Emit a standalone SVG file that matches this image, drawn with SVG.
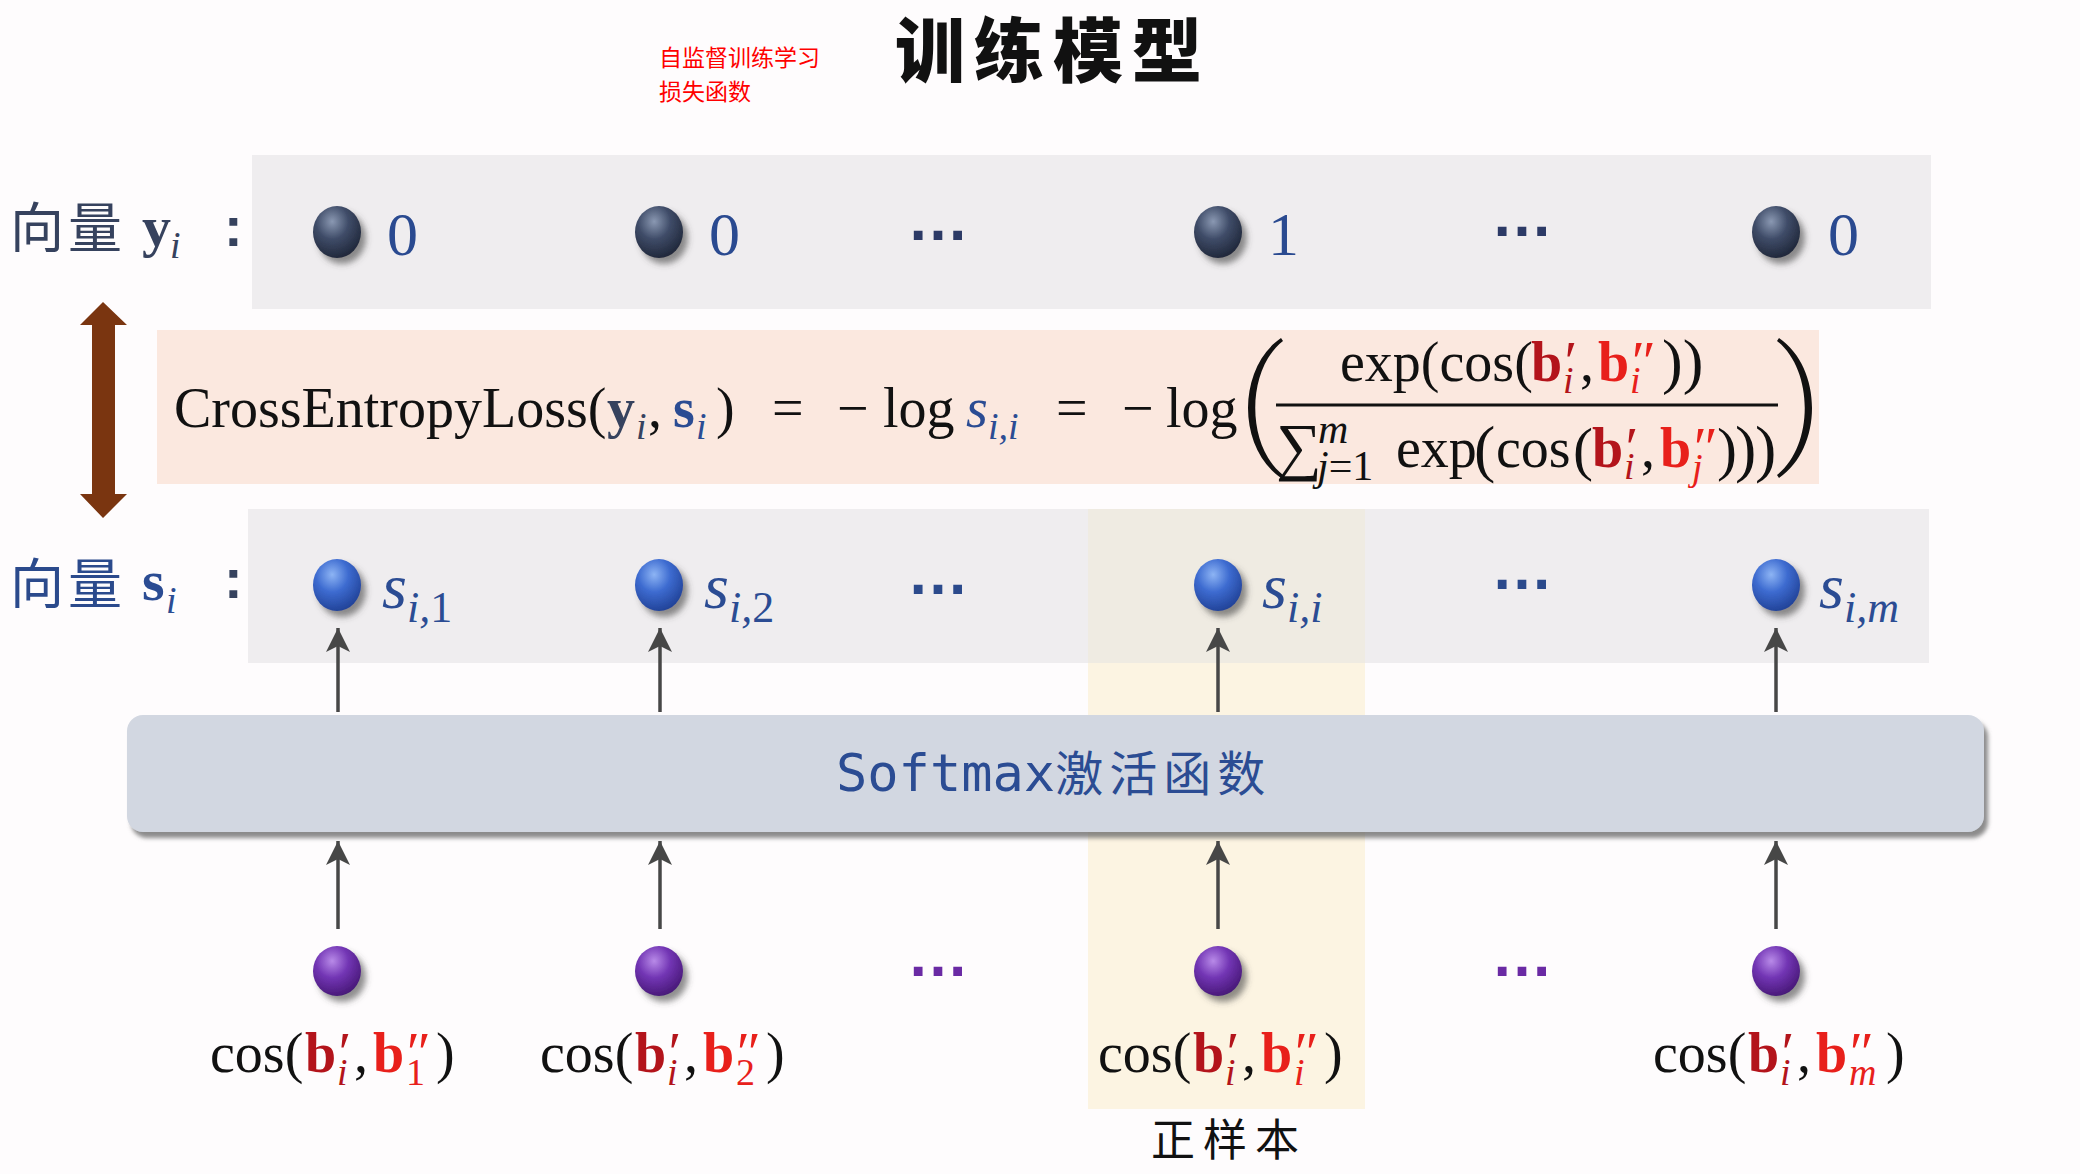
<svg xmlns="http://www.w3.org/2000/svg" width="2080" height="1174" viewBox="0 0 2080 1174">
<defs>
<style>
.cjk{font-family:"Noto Sans CJK SC","Noto Sans",sans-serif}
.serif{font-family:"Liberation Serif","DejaVu Serif",serif}
.f{font-family:"Liberation Serif","DejaVu Serif",serif;font-size:56px;fill:#111}
.sub{font-size:38px;font-style:italic}
.pr{font-size:58px;font-style:italic}
.bd{font-weight:bold}
.it{font-style:italic}
.dr{fill:#b3141b}
.br{fill:#e8201b}
.blue{fill:#2b4c93}
.slate{fill:#36425e}
.conn{stroke:#474747;stroke-width:3.5;fill:none;marker-end:url(#ah)}
.dots{font-family:"Liberation Sans",sans-serif;font-weight:bold;font-size:62px;text-anchor:middle}
</style>
<radialGradient id="gDark" cx="0.4" cy="0.3" r="0.75">
<stop offset="0" stop-color="#8a98b2"/><stop offset="0.45" stop-color="#3f4c68"/><stop offset="1" stop-color="#1d2436"/>
</radialGradient>
<radialGradient id="gBlue" cx="0.4" cy="0.3" r="0.75">
<stop offset="0" stop-color="#8db4f4"/><stop offset="0.45" stop-color="#3d6bd0"/><stop offset="1" stop-color="#1f3f93"/>
</radialGradient>
<radialGradient id="gPurp" cx="0.4" cy="0.3" r="0.75">
<stop offset="0" stop-color="#b88ae8"/><stop offset="0.45" stop-color="#7235b4"/><stop offset="1" stop-color="#441672"/>
</radialGradient>
<filter id="bs" x="-50%" y="-50%" width="200%" height="200%">
<feDropShadow dx="5" dy="6" stdDeviation="3" flood-color="#444" flood-opacity="0.6"/>
</filter>
<filter id="boxs" x="-5%" y="-20%" width="110%" height="140%">
<feDropShadow dx="4" dy="6" stdDeviation="2" flood-color="#666" flood-opacity="0.75"/>
</filter>
<marker id="ah" markerUnits="userSpaceOnUse" markerWidth="24" markerHeight="24" viewBox="0 0 24 24" refX="24" refY="12" orient="auto">
<path d="M0,0 L24,12 L0,24 L6,12 Z" fill="#474747"/>
</marker>
</defs>
<rect width="2080" height="1174" fill="#fefcfd"/>

<g id="title">
<text class="cjk" x="1053" y="77" font-size="70" font-weight="900" text-anchor="middle" letter-spacing="9" fill="#111">训练模型</text>
</g>
<g id="note">
<text class="cjk" x="659" y="66" font-size="23" fill="#ff0000">自监督训练学习</text>
<text class="cjk" x="659" y="100" font-size="23" fill="#ff0000">损失函数</text>
</g>

<rect id="panel-y" x="252" y="155" width="1679" height="154" fill="#efedef"/>
<rect id="panel-loss" x="157" y="330" width="1662" height="154" fill="#fbe8df"/>
<rect x="1088" y="509" width="277" height="600" fill="#fcf4e2"/>
<rect id="panel-s" x="248" y="509" width="1681" height="154" fill="#efedef"/>
<rect x="1088" y="509" width="277" height="154" fill="#efebe2"/>

<g id="label-y">
<text class="cjk slate" x="10" y="248" font-size="54" letter-spacing="4">向量</text>
<text class="serif bd slate" x="142" y="246" font-size="58">y</text>
<text class="serif it slate" x="170" y="258" font-size="38">i</text>
<text x="224" y="246" font-family="Liberation Sans,sans-serif" font-weight="bold" font-size="56" class="slate">:</text>
</g>
<g id="label-s">
<text class="cjk" x="10" y="604" font-size="54" letter-spacing="4" fill="#2b4a8c">向量</text>
<text class="serif bd blue" x="142" y="600" font-size="58">s</text>
<text class="serif it blue" x="166" y="613" font-size="38">i</text>
<text x="224" y="598" font-family="Liberation Sans,sans-serif" font-weight="bold" font-size="56" class="slate">:</text>
</g>

<g id="double-arrow">
<polygon points="103,302 127,325 115,325 115,494 127,494 103,518 80,494 92,494 92,325 80,325" fill="#7a3510"/>
</g>

<g id="y1"><ellipse cx="337" cy="232" rx="24" ry="26" fill="url(#gDark)" filter="url(#bs)"/><text class="serif" x="387" y="255" font-size="62" fill="#2a4a90">0</text></g>
<g id="y2"><ellipse cx="659" cy="232" rx="24" ry="26" fill="url(#gDark)" filter="url(#bs)"/><text class="serif" x="709" y="255" font-size="62" fill="#2a4a90">0</text></g>
<g id="y-dots1"><text class="dots" x="938" y="240" fill="#2c3a66">…</text></g>
<g id="yi"><ellipse cx="1218" cy="232" rx="24" ry="26" fill="url(#gDark)" filter="url(#bs)"/><text class="serif" x="1268" y="255" font-size="62" fill="#2a4a90">1</text></g>
<g id="y-dots2"><text class="dots" x="1522" y="236" fill="#2c3a66">…</text></g>
<g id="ym"><ellipse cx="1776" cy="232" rx="24" ry="26" fill="url(#gDark)" filter="url(#bs)"/><text class="serif" x="1828" y="255" font-size="62" fill="#2a4a90">0</text></g>

<g id="loss">
<text class="f">
<tspan x="174" y="427">CrossEntropyLoss(</tspan><tspan x="607" y="427" class="bd slate">y</tspan><tspan x="636" y="439" class="sub slate">i</tspan><tspan x="648" y="427">,</tspan><tspan x="673" y="427" class="bd blue">s</tspan><tspan x="696" y="439" class="sub blue">i</tspan><tspan x="716" y="427">)</tspan>
<tspan x="772" y="427">=</tspan><tspan x="837" y="427">−</tspan><tspan x="883" y="427">log</tspan><tspan x="966" y="427" class="it blue">s</tspan><tspan x="988" y="439" class="sub blue">i,i</tspan>
<tspan x="1056" y="427">=</tspan><tspan x="1122" y="427">−</tspan><tspan x="1166" y="427">log</tspan>
</text>
<path d="M1281,338 C1237,368 1237,448 1281,478 L1283,475 C1246,446 1246,370 1283,341 Z" fill="#111"/>
<text class="f">
<tspan x="1340" y="381">exp(cos(</tspan><tspan x="1531" y="381" class="bd dr">b</tspan><tspan x="1561" y="381" class="pr dr">′</tspan><tspan x="1563" y="393" class="sub dr">i</tspan><tspan x="1580" y="381">,</tspan><tspan x="1598" y="381" class="bd br">b</tspan><tspan x="1628" y="381" class="pr br">″</tspan><tspan x="1630" y="393" class="sub br">i</tspan><tspan x="1662" y="382" font-size="62">))</tspan>
</text>
<line x1="1276" y1="405" x2="1778" y2="405" stroke="#111" stroke-width="3"/>
<text class="f">
<tspan x="1276" y="468" font-size="64">∑</tspan><tspan x="1318" y="443" font-size="42" font-style="italic">m</tspan><tspan x="1317" y="480" font-size="42" font-style="italic">j</tspan><tspan y="480" font-size="42">=1</tspan>
<tspan x="1396" y="467">exp</tspan><tspan x="1474" y="470" font-size="64">(</tspan><tspan x="1496" y="467">cos</tspan><tspan x="1573" y="469" font-size="60">(</tspan><tspan x="1592" y="467" class="bd dr">b</tspan><tspan x="1622" y="467" class="pr dr">′</tspan><tspan x="1624" y="479" class="sub dr">i</tspan><tspan x="1641" y="467">,</tspan><tspan x="1660" y="467" class="bd br">b</tspan><tspan x="1690" y="467" class="pr br">″</tspan><tspan x="1692" y="480" class="sub br">j</tspan><tspan x="1717" y="469" font-size="60">)</tspan><tspan x="1735" y="470" font-size="64">)</tspan><tspan x="1755" y="470" font-size="64">)</tspan>
</text>
<path d="M1779,338 C1823,368 1823,448 1779,478 L1777,475 C1814,446 1814,370 1777,341 Z" fill="#111"/>
</g>

<g id="s1"><ellipse cx="337" cy="585" rx="24" ry="26" fill="url(#gBlue)" filter="url(#bs)"/><text class="serif blue" x="382" y="608"><tspan font-size="64" font-style="italic">s</tspan><tspan x="407" y="622" font-size="44" font-style="italic">i,</tspan><tspan y="622" font-size="44">1</tspan></text></g>
<g id="s2"><ellipse cx="659" cy="585" rx="24" ry="26" fill="url(#gBlue)" filter="url(#bs)"/><text class="serif blue" x="704" y="608"><tspan font-size="64" font-style="italic">s</tspan><tspan x="729" y="622" font-size="44" font-style="italic">i,</tspan><tspan y="622" font-size="44">2</tspan></text></g>
<g id="s-dots1"><text class="dots" x="938" y="594" fill="#2b4a8c">…</text></g>
<g id="si"><ellipse cx="1218" cy="585" rx="24" ry="26" fill="url(#gBlue)" filter="url(#bs)"/><text class="serif blue" x="1262" y="608"><tspan font-size="64" font-style="italic">s</tspan><tspan x="1287" y="622" font-size="44" font-style="italic">i,i</tspan></text></g>
<g id="s-dots2"><text class="dots" x="1522" y="589" fill="#2b4a8c">…</text></g>
<g id="sm"><ellipse cx="1776" cy="585" rx="24" ry="26" fill="url(#gBlue)" filter="url(#bs)"/><text class="serif blue" x="1819" y="608"><tspan font-size="64" font-style="italic">s</tspan><tspan x="1844" y="622" font-size="44" font-style="italic">i,m</tspan></text></g>

<g id="softmax">
<rect x="127" y="715" width="1857" height="117" rx="16" fill="#d2d7e1" filter="url(#boxs)"/>
<text x="836" y="791" fill="#2b4c93"><tspan font-family="DejaVu Sans Mono,Liberation Mono,monospace" font-size="52">Softmax</tspan><tspan class="cjk" font-size="48" letter-spacing="6">激活函数</tspan></text>
</g>

<g id="connectors">
<line class="conn" x1="338" y1="712" x2="338" y2="628"/>
<line class="conn" x1="660" y1="712" x2="660" y2="628"/>
<line class="conn" x1="1218" y1="712" x2="1218" y2="628"/>
<line class="conn" x1="1776" y1="712" x2="1776" y2="628"/>
<line class="conn" x1="338" y1="929" x2="338" y2="841"/>
<line class="conn" x1="660" y1="929" x2="660" y2="841"/>
<line class="conn" x1="1218" y1="929" x2="1218" y2="841"/>
<line class="conn" x1="1776" y1="929" x2="1776" y2="841"/>
</g>

<g id="c1"><ellipse cx="337" cy="971" rx="24" ry="25" fill="url(#gPurp)" filter="url(#bs)"/>
<text class="f"><tspan x="210" y="1072">cos(</tspan><tspan x="305" y="1072" class="bd dr">b</tspan><tspan x="335" y="1072" class="pr dr">′</tspan><tspan x="337" y="1085" class="sub dr">i</tspan><tspan x="354" y="1072">,</tspan><tspan x="373" y="1072" class="bd br">b</tspan><tspan x="403" y="1072" class="pr br">″</tspan><tspan x="406" y="1085" font-size="38" class="br">1</tspan><tspan x="436" y="1072">)</tspan></text></g>
<g id="c2"><ellipse cx="659" cy="971" rx="24" ry="25" fill="url(#gPurp)" filter="url(#bs)"/>
<text class="f"><tspan x="540" y="1072">cos(</tspan><tspan x="635" y="1072" class="bd dr">b</tspan><tspan x="665" y="1072" class="pr dr">′</tspan><tspan x="667" y="1085" class="sub dr">i</tspan><tspan x="684" y="1072">,</tspan><tspan x="703" y="1072" class="bd br">b</tspan><tspan x="733" y="1072" class="pr br">″</tspan><tspan x="736" y="1085" font-size="38" class="br">2</tspan><tspan x="766" y="1072">)</tspan></text></g>
<g id="c-dots1"><text class="dots" x="938" y="976" fill="#6a2aa4">…</text></g>
<g id="ci"><ellipse cx="1218" cy="971" rx="24" ry="25" fill="url(#gPurp)" filter="url(#bs)"/>
<text class="f"><tspan x="1098" y="1072">cos(</tspan><tspan x="1193" y="1072" class="bd dr">b</tspan><tspan x="1223" y="1072" class="pr dr">′</tspan><tspan x="1225" y="1085" class="sub dr">i</tspan><tspan x="1242" y="1072">,</tspan><tspan x="1261" y="1072" class="bd br">b</tspan><tspan x="1291" y="1072" class="pr br">″</tspan><tspan x="1294" y="1085" class="sub br">i</tspan><tspan x="1324" y="1072">)</tspan></text></g>
<g id="c-dots2"><text class="dots" x="1522" y="976" fill="#6a2aa4">…</text></g>
<g id="cm"><ellipse cx="1776" cy="971" rx="24" ry="25" fill="url(#gPurp)" filter="url(#bs)"/>
<text class="f"><tspan x="1653" y="1072">cos(</tspan><tspan x="1748" y="1072" class="bd dr">b</tspan><tspan x="1778" y="1072" class="pr dr">′</tspan><tspan x="1780" y="1085" class="sub dr">i</tspan><tspan x="1797" y="1072">,</tspan><tspan x="1816" y="1072" class="bd br">b</tspan><tspan x="1846" y="1072" class="pr br">″</tspan><tspan x="1849" y="1085" class="sub br">m</tspan><tspan x="1886" y="1072">)</tspan></text></g>

<g id="positive-label">
<text class="cjk" x="1229" y="1156" font-size="44" text-anchor="middle" letter-spacing="8" fill="#111">正样本</text>
</g>
</svg>
